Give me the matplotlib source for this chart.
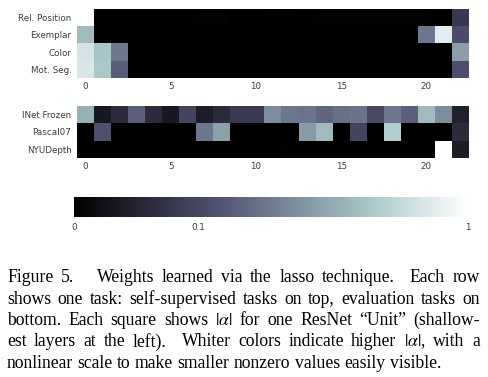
import numpy as np
import matplotlib
matplotlib.use("Agg")
import matplotlib.pyplot as plt
import matplotlib.colors as mcolors

# ---- data: |alpha| per ResNet unit (23 units) ----
self_tasks = ["Rel. Position", "Exemplar", "Color", "Mot. Seg."]
eval_tasks = ["INet Frozen", "Pascal07", "NYUDepth"]
units = list(range(23))
xtick_vals = [0, 5, 10, 15, 20]
cbar_ticks = [0, 0.1, 1]
cbar_ticklabels = ["0", "0.1", "1"]

rel_position = [1.0, 0, 0, 0, 0, 0, 0, 0.0002, 0.0002, 0, 0, 0.0001, 0.0001, 0,
                0.0002, 0.0002, 0.0002, 0.0002, 0.0002, 0.0002, 0.0001, 0, 0.065]
exemplar = [0.50, 0, 0, 0, 0, 0, 0, 0, 0, 0, 0, 0, 0, 0, 0, 0, 0, 0, 0, 0,
            0.235, 0.84, 0.116]
color = [0.77, 0.555, 0.24, 0, 0, 0, 0, 0, 0, 0, 0, 0, 0, 0, 0, 0, 0, 0, 0, 0,
         0, 0, 0.38]
mot_seg = [0.79, 0.57, 0.16, 0, 0, 0, 0, 0, 0, 0, 0, 0, 0, 0, 0, 0, 0, 0, 0, 0,
           0, 0, 0.12]

inet_frozen = [0.46, 0.012, 0.039, 0.17, 0.039, 0.012, 0.093, 0.018, 0.038, 0.068,
               0.068, 0.31, 0.235, 0.23, 0.19, 0.217, 0.225, 0.11, 0.235, 0.17,
               0.50, 0.31, 0.023]
pascal07 = [0, 0.129, 0, 0, 0, 0, 0, 0.235, 0.39, 0, 0, 0, 0, 0.37, 0.50, 0,
            0.093, 0, 0.616, 0, 0, 0, 0.039]
nyudepth = [0, 0, 0, 0, 0, 0, 0, 0, 0, 0, 0, 0, 0.0001, 0.0001, 0.0001, 0.0001,
            0.0001, 0.0001, 0.0001, 0.0001, 0.0001, 1.0, 0.0157]

caption_lines = [
    "Figure 5.   Weights learned via the lasso technique.  Each row",
    "shows one task: self-supervised tasks on top, evaluation tasks on",
    "bottom. Each square shows $|\\alpha|$ for one ResNet \u201cUnit\u201d (shallow-",
    "est layers at the left).  Whiter colors indicate higher $|\\alpha|$, with a",
    "nonlinear scale to make smaller nonzero values easily visible.",
]

# ---- figure ----
W, H = 489, 377
fig = plt.figure(figsize=(W / 100, H / 100), dpi=100)
plt.rcParams["mathtext.fontset"] = "stix"

norm = mcolors.FuncNorm((np.sqrt, np.square), vmin=0, vmax=1)
cmap = plt.get_cmap("bone")
tick_color = "#3c3c3c"
fs = 6.3


def px_axes(x0, y0, x1, y1):
    return fig.add_axes([x0 / W, 1 - y1 / H, (x1 - x0) / W, (y1 - y0) / H])


def heat(ax, rows, labels):
    data = np.array(rows, dtype=float)
    im = ax.imshow(data, cmap=cmap, norm=norm, aspect="auto",
                   interpolation="nearest")
    ax.set_xticks(xtick_vals)
    ax.set_xticklabels([str(v) for v in xtick_vals])
    ax.set_yticks(range(len(labels)))
    ax.set_yticklabels(labels)
    ax.tick_params(length=0, labelsize=fs, labelcolor=tick_color)
    ax.tick_params(axis="x", pad=3)
    ax.tick_params(axis="y", pad=4)
    for s in ax.spines.values():
        s.set_visible(False)
    return im


ax1 = px_axes(77, 9, 469, 78)
im = heat(ax1, [rel_position, exemplar, color, mot_seg], self_tasks)
ax2 = px_axes(77, 106, 469, 157.7)
heat(ax2, [inet_frozen, pascal07, nyudepth], eval_tasks)

cax = px_axes(74, 197, 468, 217.5)
cb = fig.colorbar(im, cax=cax, orientation="horizontal", ticks=cbar_ticks)
cb.set_ticklabels(cbar_ticklabels)
cb.outline.set_visible(False)
cax.tick_params(length=0, labelsize=fs, labelcolor=tick_color, pad=4)

# ---- caption (justified) ----
cap_fs = 12.7
cap_family = "Liberation Serif"
left_px, right_px = 7, 480
base0, step = 282, 21.5
renderer = fig.canvas.get_renderer()


def width_of(s):
    t = fig.text(0, 0, s, fontsize=cap_fs, family=cap_family)
    w = t.get_window_extent(renderer=renderer).width
    t.remove()
    return w

space_w = width_of("a a") - width_of("aa")

for i, line in enumerate(caption_lines):
    y = 1 - (base0 + i * step) / H
    parts = line.split(" ")
    words, gaps = [], []
    g = 0
    for p in parts:
        if p == "":
            g += 1
            continue
        if words:
            gaps.append(1 + g)
        words.append(p)
        g = 0
    widths = [width_of(w) for w in words]
    total_w = sum(widths)
    if i < len(caption_lines) - 1:
        unit = (right_px - left_px - total_w) / sum(gaps)
    else:
        unit = space_w
    x = left_px
    for j, (w, ww) in enumerate(zip(words, widths)):
        fig.text(x / W, y, w, fontsize=cap_fs, family=cap_family,
                 va="baseline", ha="left", color="black")
        x += ww
        if j < len(gaps):
            x += gaps[j] * unit

fig.savefig("out.png", dpi=100)
